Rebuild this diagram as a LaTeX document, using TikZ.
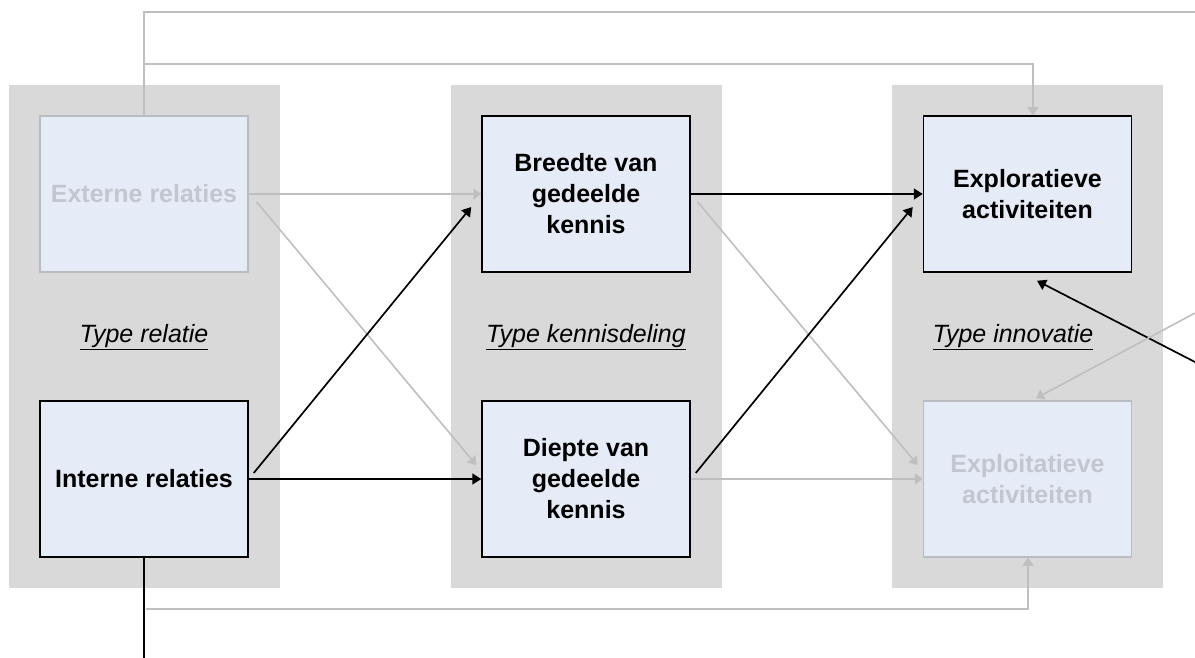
\documentclass[tikz,border=0pt]{standalone}
\usepackage{fontspec}
\setmainfont{Liberation Sans}
\usetikzlibrary{arrows.meta}

\definecolor{panelgray}{HTML}{D9D9D9}
\definecolor{boxfill}{HTML}{E6ECF7}
\definecolor{ghosttext}{HTML}{C2C6CE}
\definecolor{ghostline}{HTML}{B9BCC1}
\definecolor{linkgray}{HTML}{BFBFBF}

\tikzset{
  panel/.style={fill=panelgray, draw=none},
  box/.style={draw=black, line width=1.5pt, fill=boxfill,
    minimum width=208pt, minimum height=156pt, inner sep=0pt,
    align=center, font=\bfseries\fontsize{25}{31}\selectfont},
  ghostbox/.style={box, draw=ghostline, text=ghosttext},
  caption/.style={font=\itshape\fontsize{25}{30}\selectfont, inner sep=0pt},
  strong/.style={draw=black, line width=1.7pt,
    -{Triangle[length=9pt,width=11pt]}},
  faint/.style={draw=linkgray, line width=1.6pt,
    -{Triangle[length=8pt,width=11pt]}},
  strongline/.style={draw=black, line width=1.7pt},
  faintline/.style={draw=linkgray, line width=1.6pt},
}

\begin{document}
\begin{tikzpicture}[x=1pt, y=-1pt]
  \useasboundingbox (0,0) rectangle (1195,658);

  % column panels
  \fill[panel] (9,85) rectangle (280,588);
  \fill[panel] (451,85) rectangle (722,588);
  \fill[panel] (892,85) rectangle (1163,588);

  % column captions
  \node[caption] (cap1) at (144,337) {\underline{Type relatie}};
  \node[caption] (cap2) at (586,337) {\underline{Type kennisdeling}};
  \node[caption] (cap3) at (1013,337) {\underline{Type innovatie}};

  % boxes
  \node[ghostbox] (ext) at (144,194) {Externe relaties};
  \node[box] (int) at (144,479) {Interne relaties};
  \node[box] (bre) at (586,194) {Breedte van\\gedeelde\\kennis};
  \node[box] (die) at (586,479) {Diepte van\\gedeelde\\kennis};
  \node[box] (exr) at (1027.5,194) {Exploratieve\\activiteiten};
  \node[ghostbox] (exp) at (1027.5,479) {Exploitatieve\\activiteiten};

  % free ends of the outer connectors
  \coordinate (topR) at (1195,12);
  \coordinate (br1) at (144,64);
  \coordinate (botEnd) at (144,658);
  \coordinate (br2) at (146,609);
  \coordinate (edgeA) at (1195,362);
  \coordinate (edgeB) at (1195,313);

  % outer loops
  \draw[faintline] (ext.north) |- (topR);
  \draw[faint] (br1) -| ([xshift=5.5pt]exr.north);
  \draw[strongline] (int.south) -- (botEnd);
  \draw[faint] (br2) -| ([xshift=0.5pt]exp.south);

  % first column to second column
  \draw[faint] (ext.east) -- (bre.west);
  \draw[faint] ([xshift=8pt,yshift=-8pt]ext.east) -- ([xshift=-5pt,yshift=14pt]die.west);
  \draw[strong] ([xshift=5pt,yshift=6pt]int.east) -- ([xshift=-10pt,yshift=-13pt]bre.west);
  \draw[strong] (int.east) -- (die.west);

  % second column to third column
  \draw[strong] (bre.east) -- (exr.west);
  \draw[faint] ([xshift=7pt,yshift=-8pt]bre.east) -- ([xshift=-5pt,yshift=14pt]exp.west);
  \draw[strong] ([xshift=5pt,yshift=6pt]die.east) -- ([xshift=-10pt,yshift=-13pt]exr.west);
  \draw[faint] (die.east) -- (exp.west);

  % connectors entering from the right
  \draw[strong] (edgeA) -- ([xshift=9.5pt,yshift=-8pt]exr.south);
  \draw[faint] (edgeB) -- ([xshift=8.5pt,yshift=2pt]exp.north);
\end{tikzpicture}
\end{document}
